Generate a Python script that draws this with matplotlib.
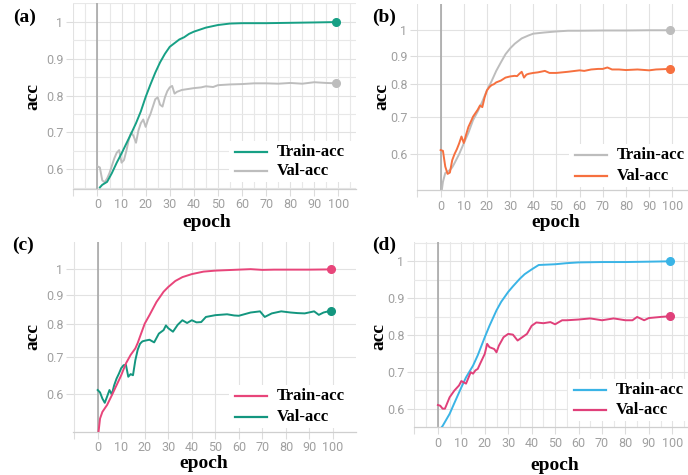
import matplotlib as mpl
import matplotlib.pyplot as plt
from matplotlib.patches import Rectangle
from matplotlib.lines import Line2D
from matplotlib.ticker import FixedLocator, FixedFormatter, NullLocator, NullFormatter

# ---- values ----
x_tick_values = [0, 10, 20, 30, 40, 50, 60, 70, 80, 90, 100]
y_tick_values = [0.6, 0.7, 0.8, 0.9, 1.0]
y_tick_labels = ["0.6", "0.7", "0.8", "0.9", "1"]
series_names = ["Train-acc", "Val-acc"]

# (a)
a_train_ep = [1, 2, 3, 4, 6, 8, 10, 12, 14, 16, 18, 20, 22, 24, 26, 28, 30, 32, 34, 36, 38, 40,
              45, 50, 55, 60, 70, 80, 90, 99]
a_train_acc = [0.551, 0.558, 0.562, 0.566, 0.59, 0.618, 0.643, 0.67, 0.697, 0.725, 0.757, 0.796,
               0.83, 0.862, 0.89, 0.913, 0.932, 0.942, 0.952, 0.958, 0.967, 0.973,
               0.984, 0.991, 0.995, 0.996, 0.996, 0.997, 0.998, 0.999]
a_val_ep = [0, 1, 2, 3, 4, 5, 6, 7, 8, 9, 10, 11, 12, 13, 14, 15, 16, 17, 18, 19, 20, 21, 22, 23,
            24, 25, 26, 27, 28, 29, 30, 31, 32, 33, 35, 37, 40, 43, 45, 48, 50, 55, 60, 65, 70,
            75, 80, 85, 90, 95, 99]
a_val_acc = [0.608, 0.605, 0.57, 0.565, 0.575, 0.59, 0.61, 0.63, 0.645, 0.652, 0.618, 0.625,
             0.65, 0.68, 0.70, 0.69, 0.672, 0.705, 0.725, 0.735, 0.715, 0.735, 0.75, 0.77,
             0.79, 0.795, 0.775, 0.77, 0.795, 0.812, 0.822, 0.826, 0.805, 0.81, 0.815, 0.817,
             0.82, 0.822, 0.825, 0.823, 0.828, 0.83, 0.831, 0.833, 0.833,
             0.832, 0.834, 0.832, 0.836, 0.834, 0.833]

# (b)
b_train_ep = [0, 1, 2, 3, 4, 5, 6, 8, 10, 12, 14, 16, 18, 20, 22, 24, 26, 28, 30, 32, 35, 38,
              40, 45, 50, 55, 60, 70, 80, 90, 99]
b_train_acc = [0.50, 0.535, 0.555, 0.558, 0.562, 0.568, 0.578, 0.60, 0.627, 0.655, 0.69, 0.715,
               0.745, 0.78, 0.81, 0.845, 0.875, 0.905, 0.927, 0.945, 0.966, 0.978,
               0.985, 0.99, 0.994, 0.997, 0.997, 0.998, 0.998, 0.999, 0.999]
b_val_ep = [0, 1, 2, 3, 4, 5, 6, 7, 8, 9, 10, 11, 12, 13, 14, 15, 16, 17, 18, 19, 20, 21, 22,
            23, 24, 26, 28, 30, 32, 33, 34, 35, 36, 37, 38, 40, 42, 45, 47, 50, 55, 58, 60, 62,
            65, 68, 70, 72, 74, 77, 80, 85, 90, 93, 96, 99]
b_val_acc = [0.61, 0.608, 0.57, 0.553, 0.556, 0.585, 0.60, 0.612, 0.627, 0.645, 0.628, 0.65,
             0.671, 0.685, 0.70, 0.71, 0.72, 0.733, 0.728, 0.758, 0.78, 0.79, 0.797,
             0.80, 0.806, 0.812, 0.822, 0.826, 0.828, 0.827, 0.835, 0.842, 0.822, 0.832, 0.835,
             0.838, 0.84, 0.845, 0.838, 0.838, 0.842, 0.845, 0.847, 0.845,
             0.85, 0.852, 0.852, 0.857, 0.85, 0.85, 0.848, 0.85, 0.847, 0.85, 0.851, 0.852]

# (c)
c_train_ep = [0, 1, 2, 4, 6, 8, 10, 12, 14, 16, 17, 18, 20, 22, 25, 28, 30, 33, 36, 40, 45, 50,
              55, 60, 65, 70, 75, 80, 90, 99]
c_train_acc = [0.50, 0.544, 0.559, 0.575, 0.598, 0.623, 0.649, 0.681, 0.705, 0.724, 0.74, 0.76,
               0.801, 0.829, 0.875, 0.912, 0.93, 0.953, 0.968, 0.98, 0.99, 0.994,
               0.996, 0.998, 1.0, 0.997, 0.998, 0.998, 0.998, 0.999]
c_val_ep = [0, 1, 2, 3, 4, 5, 6, 7, 8, 9, 10, 11, 12, 13, 14, 15, 16, 17, 18, 19, 20, 22, 24,
            26, 28, 29, 30, 32, 34, 36, 38, 40, 42, 44, 46, 50, 55, 58, 60, 65, 69, 71, 74, 78,
            82, 85, 88, 92, 94, 96, 99]
c_val_acc = [0.611, 0.605, 0.59, 0.58, 0.595, 0.611, 0.60, 0.623, 0.64, 0.653, 0.668, 0.676,
             0.677, 0.645, 0.652, 0.649, 0.69, 0.72, 0.738, 0.745, 0.747, 0.75, 0.742,
             0.769, 0.78, 0.795, 0.786, 0.775, 0.797, 0.812, 0.803, 0.812, 0.805, 0.806, 0.823,
             0.829, 0.832, 0.828, 0.827, 0.838, 0.842, 0.823, 0.835, 0.842,
             0.838, 0.836, 0.835, 0.842, 0.83, 0.838, 0.844]

# (d)
d_train_ep = [0, 1, 2, 5, 7, 10, 12, 15, 17, 20, 22, 25, 27, 30, 32, 35, 37, 40, 43, 50, 55,
              60, 70, 80, 90, 99]
d_train_acc = [0.535, 0.545, 0.553, 0.586, 0.615, 0.658, 0.685, 0.717, 0.745, 0.794, 0.825,
               0.867, 0.89, 0.917, 0.932, 0.953, 0.965, 0.978, 0.99, 0.992, 0.995,
               0.997, 0.998, 0.998, 0.999, 1.0]
d_val_ep = [0, 1, 2, 3, 5, 7, 9, 10, 12, 14, 15, 16, 17, 18, 20, 21, 22, 24, 25, 26, 28, 30,
            32, 34, 36, 38, 40, 42, 45, 48, 50, 53, 55, 60, 65, 70, 75, 80, 83, 85, 88, 90, 95,
            99]
d_val_acc = [0.61, 0.608, 0.60, 0.60, 0.631, 0.649, 0.663, 0.675, 0.668, 0.699, 0.695, 0.704,
             0.708, 0.722, 0.749, 0.776, 0.767, 0.762, 0.753, 0.771, 0.794, 0.803,
             0.801, 0.785, 0.794, 0.803, 0.825, 0.834, 0.832, 0.835, 0.829, 0.84, 0.84,
             0.842, 0.845, 0.84, 0.845, 0.84, 0.84, 0.849, 0.84, 0.846, 0.849, 0.851]

# colours
teal = "#17a085"
grey = "#bdbdbd"
orange = "#f6703f"
pink = "#e8457a"
blue = "#3ab4e6"

W, H = 688, 475
serif = "Liberation Serif"

fig = plt.figure(figsize=(W / 100, H / 100), dpi=100)


def make_panel(box, xlim, ylim, logy, minor):
    # box = (left, top, right, bottom) in pixels
    l, t, r, b = box
    ax = fig.add_axes([l / W, 1 - b / H, (r - l) / W, (b - t) / H])
    if logy:
        ax.set_yscale("log")
    ax.set_xlim(*xlim)
    ax.set_ylim(*ylim)
    for s in ["top", "right", "left"]:
        ax.spines[s].set_visible(False)
    ax.spines["bottom"].set_color("#cfcfcf")
    ax.spines["bottom"].set_linewidth(0.9)

    ax.xaxis.set_major_locator(FixedLocator([-10] + x_tick_values))
    ax.xaxis.set_major_formatter(FixedFormatter([""] + [str(v) for v in x_tick_values]))
    ax.yaxis.set_major_locator(FixedLocator(y_tick_values))
    ax.yaxis.set_major_formatter(FixedFormatter(y_tick_labels))
    if minor:
        ax.xaxis.set_minor_locator(FixedLocator([-5, 5, 15, 25, 35, 45, 55, 65, 75, 85, 95, 105]))
        ax.yaxis.set_minor_locator(FixedLocator([0.55, 0.65, 0.75, 0.85, 0.95, 1.05]))
    else:
        ax.xaxis.set_minor_locator(NullLocator())
        ax.yaxis.set_minor_locator(NullLocator())
    ax.yaxis.set_minor_formatter(NullFormatter())
    ax.tick_params(which="major", length=5, width=0.8, color="#dcdcdc", pad=2,
                   labelsize=9, labelcolor="#a0a0a0")
    ax.tick_params(which="minor", length=0)
    for lab in ax.get_xticklabels() + ax.get_yticklabels():
        lab.set_family("Roboto")
    ax.grid(which="major", color="#e2e2e2", lw=0.8)
    ax.grid(which="minor", color="#e8e8e8", lw=0.8)
    ax.set_axisbelow(True)
    ax.axvline(0, color="#a8a8a8", lw=1.2, zorder=2)
    return ax


def draw(ax, ep, acc, color):
    ax.plot(ep, acc, color=color, lw=1.4, zorder=3)
    ax.plot(ep[-1], acc[-1], "o", color=color, ms=5.5, zorder=4, clip_on=False)


def legend(x0, y1, y2, c1, c2, box_right):
    # white patch + two lines + labels, all in figure pixels
    tr = fig.transFigure
    fig.patches.append(Rectangle(((x0 - 6) / W, 1 - (y2 + 11) / H), (box_right - x0 + 6) / W,
                                 (y2 - y1 + 22) / H, transform=tr, facecolor="white",
                                 edgecolor="none", zorder=1))
    for y, c, name in [(y1, c1, series_names[0]), (y2, c2, series_names[1])]:
        fig.lines.append(Line2D([x0 / W, (x0 + 32) / W], [1 - y / H, 1 - y / H], transform=tr,
                                color=c, lw=1.6, zorder=2))
        fig.text((x0 + 42) / W, 1 - y / H, name, family=serif, weight="bold", fontsize=12,
                 va="center", ha="left", zorder=3)


def labels(tag, tag_xy, acc_xy, epoch_xy):
    fig.text(tag_xy[0] / W, 1 - tag_xy[1] / H, tag, family=serif, weight="bold", fontsize=14,
             ha="center", va="center")
    fig.text(acc_xy[0] / W, 1 - acc_xy[1] / H, "acc", family=serif, weight="bold", fontsize=14,
             ha="center", va="center", rotation=90)
    fig.text(epoch_xy[0] / W, 1 - epoch_xy[1] / H, "epoch", family=serif, weight="bold",
             fontsize=14, ha="center", va="center")


# (a) linear y
ax_a = make_panel((73, 3, 356, 188.5), (-10.15, 107.3), (0.548, 1.0507), False, True)
draw(ax_a, a_val_ep, a_val_acc, grey)
draw(ax_a, a_train_ep, a_train_acc, teal)
legend(235, 152, 171, teal, grey, 356)
labels("(a)", (25, 17), (33, 96), (207, 223))

# (b) log y
ax_b = make_panel((417, 4, 688, 190), (-10.2, 106.8), (0.5175, 1.113), True, False)
draw(ax_b, b_train_ep, b_train_acc, grey)
draw(ax_b, b_val_ep, b_val_acc, orange)
legend(575, 155, 176, grey, orange, 688)
labels("(b)", (384, 17), (382, 97), (556, 222))

# (c) log y
ax_c = make_panel((73, 242, 356, 431.5), (-10.5, 109.8), (0.516, 1.117), True, False)
draw(ax_c, c_val_ep, c_val_acc, "#13967f")
draw(ax_c, c_train_ep, c_train_acc, pink)
legend(235, 396, 417, pink, "#13967f", 356)
labels("(c)", (23, 245), (33, 337), (204, 463))

# (d) linear y
ax_d = make_panel((414, 242, 688, 427), (-10.2, 106.7), (0.5503, 1.0524), False, True)
draw(ax_d, d_train_ep, d_train_acc, blue)
draw(ax_d, d_val_ep, d_val_acc, "#e0407a")
legend(574, 390, 410, blue, "#e0407a", 688)
labels("(d)", (384, 245), (379, 337), (555, 465))

fig.savefig("out.png", dpi=100)
plt.close("all")
